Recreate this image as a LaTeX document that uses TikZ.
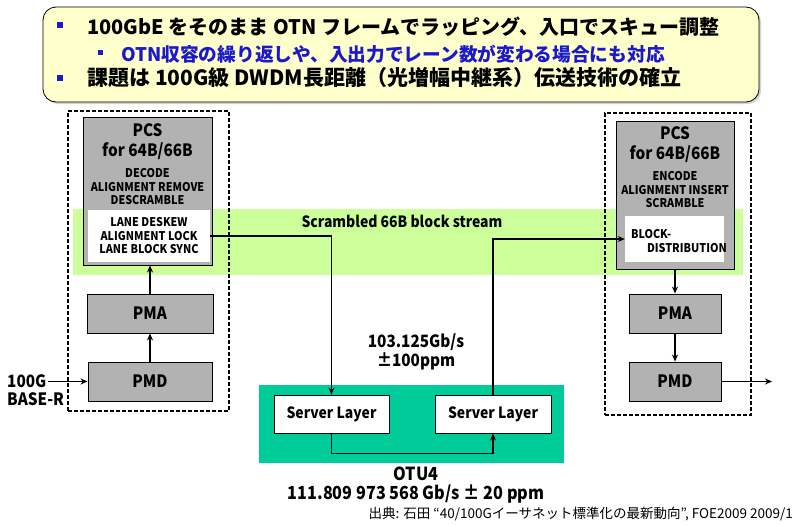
\documentclass[tikz,border=0pt]{standalone}
\usepackage{fontspec}
\setmainfont{Noto Sans CJK JP}
\newfontfamily\narrowfont{Noto Sans CJK JP}[FakeStretch=0.9]
\usepackage{tikz}
\usetikzlibrary{calc,backgrounds,shadows,arrows.meta,positioning}
\definecolor{notebg}{HTML}{FFFFCC}
\definecolor{streambg}{HTML}{CCFF99}
\definecolor{otubg}{HTML}{00CC99}
\definecolor{layergray}{HTML}{B2B2B2}
\definecolor{noteblue}{HTML}{1A1ACC}
\tikzstyle{diag}=[
  x=1pt,y=-1pt,font=\narrowfont\bfseries\fontsize{15.5}{18}\selectfont
]
\tikzstyle{notebox}=[
  draw,rounded corners=13pt,fill=notebg,line width=0.8pt,
  drop shadow={opacity=0.35,shadow xshift=2pt,shadow yshift=-2pt}
]
\tikzstyle{notebullet}=[
  fill=noteblue,minimum size=6pt,inner sep=0pt
]
\tikzstyle{notetext}=[
  anchor=west,inner sep=0pt,font=\bfseries\fontsize{20}{24}\selectfont
]
\tikzstyle{phy}=[
  draw,dash pattern=on 4pt off 2pt,line width=1.3pt,inner sep=0pt
]
\tikzstyle{layer}=[
  draw,fill=layergray,line width=0.9pt,inner sep=0pt,
  font=\narrowfont\bfseries\fontsize{17}{20}\selectfont
]
\tikzstyle{sublayer}=[
  fill=white,inner sep=0pt
]
\tikzstyle{server}=[
  draw,fill=white,line width=0.9pt,inner sep=0pt,minimum width=115pt,minimum height=38pt
]
\tikzstyle{title}=[
  align=center,inner sep=0pt,font=\narrowfont\bfseries\fontsize{17}{20}\selectfont
]
\tikzstyle{small}=[
  align=center,inner sep=0pt,font=\narrowfont\bfseries\fontsize{12}{13.5}\selectfont
]
\tikzstyle{rate}=[
  align=center,inner sep=0pt,font=\narrowfont\bfseries\fontsize{18}{18.5}\selectfont
]
\tikzset{
  flow/.style={-{Stealth[length=7pt,width=6pt]},line width=1.8pt},
}

\begin{document}
\begin{tikzpicture}[diag]
  \useasboundingbox (0,0) rectangle (800,525);
  % summary
  \node (note) at (401,54.5) [notebox,minimum width=716pt,minimum height=95pt] {};
  \node (b1) at (60,25) [notebullet] {};
  \node (b2) at (100,52) [notebullet,minimum size=5pt] {};
  \node (b3) at (60,78) [notebullet] {};
  \node (t1) at (87,27) [notetext] {100GbE をそのまま OTN フレームでラッピング、入口でスキュー調整};
  \node (t2) at (121,54) [notetext,text=noteblue,font=\bfseries\fontsize{18.7}{22}\selectfont] {OTN収容の繰り返しや、入出力でレーン数が変わる場合にも対応};
  \node (t3) at (87,78) [notetext,font=\bfseries\fontsize{21}{24}\selectfont] {課題は 100G級 DWDM長距離（光増幅中継系）伝送技術の確立};

  \begin{scope}[on background layer]
    \node (band) at (408,242) [fill=streambg,minimum width=670pt,minimum height=66pt] {};
  \end{scope}
  \node (bandtxt) at (402,221) {Scrambled 66B block stream};

  % receive side
  \node (phyL) at (148.5,261) [phy,minimum width=161pt,minimum height=300pt] {};
  \node (pcsL) at (147.5,191) [layer,minimum width=129pt,minimum height=148pt] {};
  \node (laneL) at (149,236) [sublayer,minimum width=122pt,minimum height=52pt] {};
  \node (pcsLt) at ($(pcsL.north)+(0,25)$) [title] {PCS\\for 64B/66B};
  \node (pcsLf) at ($(pcsL.north)+(0,70)$) [small] {DECODE\\ALIGNMENT REMOVE\\DESCRAMBLE};
  \node (laneLt) at (laneL) [small] {LANE DESKEW\\ALIGNMENT LOCK\\LANE BLOCK SYNC};
  \node (pmaL) at (150,313.5) [layer,minimum width=126pt,minimum height=39pt] {PMA};
  \node (pmdL) at (150,381.5) [layer,minimum width=124pt,minimum height=39pt] {PMD};
  \node (inlab) at (7,390) [anchor=west,align=left,inner sep=0pt,font=\narrowfont\bfseries\fontsize{17}{18}\selectfont] {100G\\BASE-R};
  \coordinate (inL) at (48,381.5);

  % transmit side
  \node (phyR) at (678,264) [phy,minimum width=146pt,minimum height=302pt] {};
  \node (pcsR) at (675,195) [layer,minimum width=118pt,minimum height=148pt] {};
  \node (distR) at (674.5,239) [sublayer,minimum width=99pt,minimum height=46pt] {};
  \node (pcsRt) at ($(pcsR.north)+(0,24)$) [title] {PCS\\for 64B/66B};
  \node (pcsRf) at ($(pcsR.north)+(0,69)$) [small] {ENCODE\\ALIGNMENT INSERT\\SCRAMBLE};
  \node (distRt) at ($(distR.west)+(6,2)$) [small,align=left,anchor=west] {BLOCK-\\\hspace{16pt}DISTRIBUTION};
  \node (pmaR) at (675,313.5) [layer,minimum width=92pt,minimum height=39pt] {PMA};
  \node (pmdR) at (675,381.5) [layer,minimum width=92pt,minimum height=39pt] {PMD};
  \coordinate (outR) at (772,381.5);

  % OTU4
  \node (otu) at (411.5,424) [fill=otubg,minimum width=305pt,minimum height=78pt] {};
  \node (slL) at (331.5,414) [server] {Server Layer};
  \node (slR) at (493,414) [server,minimum width=116pt] {Server Layer};
  \node (lanerate) at (416,351.5) [rate,font=\narrowfont\bfseries\fontsize{17}{19}\selectfont] {103.125Gb/s\\±100ppm};
  \node (oturate) at (416,485) [rate] {OTU4\\111.809 973 568 Gb/s ± 20 ppm};
  \node (src) at (793,514) [anchor=east,inner sep=0pt,font=\fontsize{13.5}{15}\selectfont] {出典: 石田 “40/100Gイーサネット標準化の最新動向”, FOE2009 2009/1};

  \draw [flow] (inL) -- (pmdL);
  \draw [flow] (pmdL) -- (pmaL);
  \draw [flow] (pmaL.north) -- (pmaL.north |- pcsL.south);
  \draw [flow] (laneL.east) -| (slL.north);
  \draw [flow] (slL.south) -- ++(0,20) -| (slR.south);
  \draw [flow] (slR.north) |- (distR.west);
  \draw [flow] (pcsR.south) -- (pmaR.north);
  \draw [flow,line width=1.2pt] (pmaR) -- (pmdR);
  \draw [flow] (pmdR) -- (outR);
\end{tikzpicture}
\end{document}
